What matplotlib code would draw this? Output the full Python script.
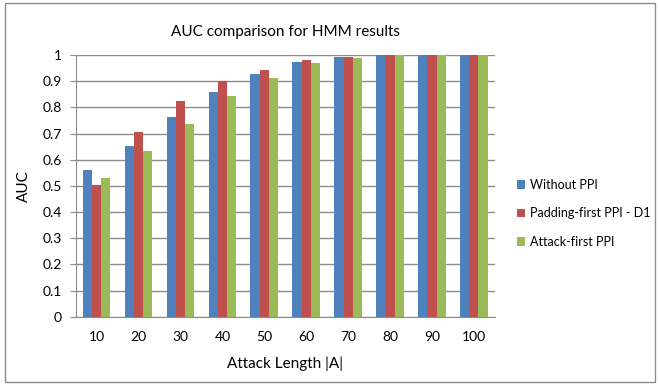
import numpy as np
import matplotlib.pyplot as plt
from matplotlib.patches import Rectangle

plt.rcParams['font.family'] = ['Lato', 'DejaVu Sans']

# data
lengths = ['10', '20', '30', '40', '50', '60', '70', '80', '90', '100']
without_ppi = [0.56, 0.652, 0.762, 0.858, 0.928, 0.975, 0.992, 1.0, 1.0, 1.0]
padding_first = [0.505, 0.705, 0.826, 0.900, 0.943, 0.980, 0.992, 1.0, 1.0, 1.0]
attack_first = [0.530, 0.632, 0.738, 0.843, 0.911, 0.968, 0.988, 1.0, 1.0, 1.0]

series = [
    ('Without PPI', without_ppi, '#4F81BD'),
    ('Padding-first PPI - D1', padding_first, '#C0504D'),
    ('Attack-first PPI', attack_first, '#9BBB59'),
]

fig = plt.figure(figsize=(6.58, 3.85), dpi=100)
ax = fig.add_axes([0.115, 0.177, 0.637, 0.680])

x = np.arange(len(lengths))
w = 0.22
for i, (name, vals, col) in enumerate(series):
    ax.bar(x + (i - 1) * w, vals, w, color=col, label=name, zorder=3)

ax.set_xlim(-0.5, len(lengths) - 0.5)
ax.set_ylim(0, 1)
ax.set_yticks(np.arange(0, 1.01, 0.1))
ax.set_yticklabels(['0', '0.1', '0.2', '0.3', '0.4', '0.5', '0.6', '0.7', '0.8', '0.9', '1'])
ax.set_xticks(x)
ax.set_xticklabels(lengths)
ax.yaxis.grid(True, color='#8C8C8C', linewidth=1, zorder=0)
ax.tick_params(axis='x', length=0, pad=10, labelsize=10)
ax.tick_params(axis='y', length=4, color='#8C8C8C', labelsize=10, pad=6)
for s in ['top', 'right']:
    ax.spines[s].set_visible(False)
ax.spines['left'].set_color('#8C8C8C')
ax.spines['bottom'].set_color('#8C8C8C')

ax.set_title('AUC comparison for HMM results', fontsize=11, pad=14)
ax.set_xlabel('Attack Length |A|', fontsize=11, labelpad=10)
ax.set_ylabel('AUC', fontsize=11, labelpad=8)

ax.legend(loc='center left', bbox_to_anchor=(1.052, 0.395), frameon=False,
          borderaxespad=0, borderpad=0,
          fontsize=9, handlelength=0.7, handleheight=0.7, handletextpad=0.35,
          labelspacing=1.3)

fig.patches.append(Rectangle((0.008, 0.008), 0.988, 0.985, transform=fig.transFigure,
                             fill=False, edgecolor='#8C8C8C', linewidth=1))

fig.savefig('out.png', dpi=100)
